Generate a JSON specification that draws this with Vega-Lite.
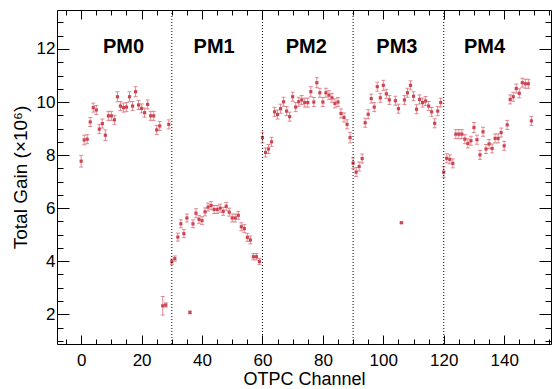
{
  "$schema": "https://vega.github.io/schema/vega-lite/v6.json",
  "width": 494,
  "height": 334,
  "autosize": {"type": "none"},
  "padding": {"left": 57, "top": 10, "right": 2, "bottom": 45},
  "background": "white",
  "config": {
    "view": {"stroke": "black", "strokeWidth": 1},
    "font": "Liberation Sans",
    "axis": {"grid": false, "domain": false, "tickColor": "black", "labelColor": "black", "titleColor": "black", "labelFont": "Liberation Sans", "titleFont": "Liberation Sans", "labelFontSize": 17, "titleFontSize": 19, "titleFontWeight": "normal"}
  },
  "datasets": {
    "gain": [
      {"ch":0,"gain":7.77,"err":0.22},{"ch":1,"gain":8.57,"err":0.18},{"ch":2,"gain":8.6,"err":0.17},{"ch":3,"gain":9.25,"err":0.17},{"ch":4,"gain":9.79,"err":0.17},
      {"ch":5,"gain":9.7,"err":0.17},{"ch":6,"gain":8.98,"err":0.17},{"ch":7,"gain":9.19,"err":0.17},{"ch":8,"gain":8.75,"err":0.2},{"ch":9,"gain":9.48,"err":0.17},
      {"ch":10,"gain":9.48,"err":0.17},{"ch":11,"gain":9.33,"err":0.17},{"ch":12,"gain":10.2,"err":0.19},{"ch":13,"gain":9.85,"err":0.17},{"ch":14,"gain":9.79,"err":0.17},
      {"ch":15,"gain":9.81,"err":0.17},{"ch":16,"gain":10.2,"err":0.19},{"ch":17,"gain":9.85,"err":0.17},{"ch":18,"gain":10.39,"err":0.19},{"ch":19,"gain":9.89,"err":0.17},
      {"ch":20,"gain":9.76,"err":0.17},{"ch":21,"gain":9.6,"err":0.17},{"ch":22,"gain":9.91,"err":0.17},{"ch":23,"gain":9.48,"err":0.17},{"ch":24,"gain":9.48,"err":0.17},
      {"ch":25,"gain":8.95,"err":0.17},{"ch":26,"gain":9.1,"err":0.17},{"ch":27,"gain":2.32,"err":0.35},{"ch":28,"gain":2.35,"err":0.08},{"ch":29,"gain":9.16,"err":0.17},
      {"ch":30,"gain":3.98,"err":0.1},{"ch":31,"gain":4.1,"err":0.1},{"ch":32,"gain":4.91,"err":0.15},{"ch":33,"gain":5.41,"err":0.15},{"ch":34,"gain":5.04,"err":0.15},
      {"ch":35,"gain":5.63,"err":0.15},{"ch":36,"gain":2.07,"err":0.05},{"ch":37,"gain":5.41,"err":0.15},{"ch":38,"gain":5.81,"err":0.17},{"ch":39,"gain":5.58,"err":0.15},
      {"ch":40,"gain":5.53,"err":0.15},{"ch":41,"gain":5.86,"err":0.15},{"ch":42,"gain":6.04,"err":0.15},{"ch":43,"gain":6.1,"err":0.15},{"ch":44,"gain":5.95,"err":0.15},
      {"ch":45,"gain":5.95,"err":0.15},{"ch":46,"gain":6.0,"err":0.15},{"ch":47,"gain":5.88,"err":0.15},{"ch":48,"gain":6.07,"err":0.15},{"ch":49,"gain":5.85,"err":0.15},
      {"ch":50,"gain":5.63,"err":0.15},{"ch":51,"gain":5.63,"err":0.15},{"ch":52,"gain":5.73,"err":0.15},{"ch":53,"gain":5.3,"err":0.15},{"ch":54,"gain":5.23,"err":0.15},
      {"ch":55,"gain":4.9,"err":0.15},{"ch":56,"gain":4.8,"err":0.15},{"ch":57,"gain":4.17,"err":0.12},{"ch":58,"gain":4.17,"err":0.12},{"ch":59,"gain":3.99,"err":0.12},
      {"ch":60,"gain":8.66,"err":0.2},{"ch":61,"gain":8.1,"err":0.17},{"ch":62,"gain":8.23,"err":0.17},{"ch":63,"gain":8.5,"err":0.17},{"ch":64,"gain":9.63,"err":0.17},
      {"ch":65,"gain":9.53,"err":0.17},{"ch":66,"gain":9.75,"err":0.17},{"ch":67,"gain":10.01,"err":0.17},{"ch":68,"gain":9.66,"err":0.17},{"ch":69,"gain":9.45,"err":0.17},
      {"ch":70,"gain":10.2,"err":0.17},{"ch":71,"gain":9.81,"err":0.17},{"ch":72,"gain":10.01,"err":0.17},{"ch":73,"gain":10.08,"err":0.17},{"ch":74,"gain":9.98,"err":0.17},
      {"ch":75,"gain":9.98,"err":0.17},{"ch":76,"gain":10.39,"err":0.19},{"ch":77,"gain":10.0,"err":0.17},{"ch":78,"gain":10.73,"err":0.19},{"ch":79,"gain":10.35,"err":0.17},
      {"ch":80,"gain":10.0,"err":0.17},{"ch":81,"gain":10.35,"err":0.17},{"ch":82,"gain":10.26,"err":0.17},{"ch":83,"gain":10.16,"err":0.17},{"ch":84,"gain":9.95,"err":0.17},
      {"ch":85,"gain":10.0,"err":0.17},{"ch":86,"gain":9.57,"err":0.17},{"ch":87,"gain":9.42,"err":0.17},{"ch":88,"gain":9.16,"err":0.17},{"ch":89,"gain":8.66,"err":0.2},
      {"ch":90,"gain":7.7,"err":0.2},{"ch":91,"gain":7.36,"err":0.17},{"ch":92,"gain":7.57,"err":0.17},{"ch":93,"gain":7.87,"err":0.17},{"ch":94,"gain":9.22,"err":0.17},
      {"ch":95,"gain":9.54,"err":0.17},{"ch":96,"gain":10.13,"err":0.17},{"ch":97,"gain":9.81,"err":0.17},{"ch":98,"gain":10.58,"err":0.17},{"ch":99,"gain":10.16,"err":0.17},
      {"ch":100,"gain":10.63,"err":0.19},{"ch":101,"gain":10.31,"err":0.17},{"ch":102,"gain":10.08,"err":0.17},{"ch":104,"gain":10.05,"err":0.17},
      {"ch":105,"gain":9.75,"err":0.17},{"ch":106,"gain":5.45,"err":0.03},{"ch":107,"gain":10.08,"err":0.17},{"ch":108,"gain":10.35,"err":0.17},{"ch":109,"gain":10.63,"err":0.17},
      {"ch":110,"gain":10.22,"err":0.17},{"ch":111,"gain":9.73,"err":0.17},{"ch":112,"gain":10.1,"err":0.17},{"ch":113,"gain":9.98,"err":0.17},{"ch":114,"gain":10.04,"err":0.17},
      {"ch":115,"gain":9.85,"err":0.17},{"ch":116,"gain":9.63,"err":0.17},{"ch":117,"gain":9.2,"err":0.17},{"ch":118,"gain":9.66,"err":0.17},{"ch":119,"gain":9.98,"err":0.17},
      {"ch":120,"gain":7.36,"err":0.2},{"ch":121,"gain":7.88,"err":0.17},{"ch":122,"gain":7.84,"err":0.17},{"ch":123,"gain":7.69,"err":0.17},{"ch":124,"gain":8.79,"err":0.17},
      {"ch":125,"gain":8.79,"err":0.17},{"ch":126,"gain":8.79,"err":0.17},{"ch":127,"gain":8.6,"err":0.17},{"ch":128,"gain":8.44,"err":0.17},{"ch":129,"gain":8.54,"err":0.17},
      {"ch":130,"gain":9.04,"err":0.19},{"ch":131,"gain":8.58,"err":0.17},{"ch":132,"gain":8.01,"err":0.17},{"ch":133,"gain":8.88,"err":0.17},{"ch":134,"gain":8.23,"err":0.17},
      {"ch":135,"gain":8.42,"err":0.17},{"ch":136,"gain":8.25,"err":0.17},{"ch":137,"gain":8.63,"err":0.17},{"ch":138,"gain":8.63,"err":0.17},{"ch":139,"gain":8.85,"err":0.17},
      {"ch":140,"gain":8.35,"err":0.17},{"ch":141,"gain":9.14,"err":0.17},{"ch":142,"gain":10.1,"err":0.17},{"ch":143,"gain":10.2,"err":0.17},{"ch":144,"gain":10.51,"err":0.17},
      {"ch":145,"gain":10.33,"err":0.17},{"ch":146,"gain":10.73,"err":0.17},{"ch":147,"gain":10.69,"err":0.17},{"ch":148,"gain":10.69,"err":0.17},{"ch":149,"gain":9.29,"err":0.17}
    ],
    "labels": [
      {"ch":14,"y":11.85,"label":"PM0"},{"ch":44,"y":11.85,"label":"PM1"},{"ch":74.5,"y":11.85,"label":"PM2"},{"ch":104.5,"y":11.85,"label":"PM3"},{"ch":133.5,"y":11.85,"label":"PM4"}
    ],
    "dividers": [{"ch":30},{"ch":60},{"ch":90},{"ch":120}]
  },
  "resolve": {"axis": {"x": "independent", "y": "independent"}},
  "layer": [
    {
      "data": {"name": "gain"},
      "mark": {"type": "errorbar", "ticks": {"size": 4}, "color": "#d9707a", "opacity": 0.8},
      "encoding": {
        "x": {"field": "ch", "type": "quantitative", "scale": {"domain": [-8, 155.5], "nice": false, "zero": false},
              "axis": {"orient": "bottom", "values": [0,20,40,60,80,100,120,140], "tickSize": -9, "labelPadding": 17, "title": "OTPC Channel", "titleFontSize": 18, "titlePadding": 2}},
        "y": {"field": "gain", "type": "quantitative", "scale": {"domain": [0.88, 13.47], "nice": false, "zero": false},
              "axis": {"orient": "left", "values": [2,4,6,8,10,12], "tickSize": -12, "labelPadding": 14, "title": "Total Gain (×10⁶)", "titlePadding": 6}},
        "yError": {"field": "err"}
      }
    },
    {
      "data": {"name": "gain"},
      "mark": {"type": "square", "size": 10, "color": "#cc4452", "opacity": 1},
      "encoding": {
        "x": {"field": "ch", "type": "quantitative",
              "axis": {"orient": "bottom", "values": [-5,0,5,10,15,20,25,30,35,40,45,50,55,60,65,70,75,80,85,90,95,100,105,110,115,120,125,130,135,140,145,150,155], "tickSize": -5, "labels": false, "title": null}},
        "y": {"field": "gain", "type": "quantitative",
              "axis": {"orient": "left", "values": [1,1.5,2,2.5,3,3.5,4,4.5,5,5.5,6,6.5,7,7.5,8,8.5,9,9.5,10,10.5,11,11.5,12,12.5,13], "tickSize": -6, "labels": false, "title": null}}
      }
    },
    {
      "data": {"name": "gain"},
      "mark": {"type": "point", "opacity": 0},
      "encoding": {
        "x": {"field": "ch", "type": "quantitative",
              "axis": {"orient": "top", "values": [-5,0,5,10,15,20,25,30,35,40,45,50,55,60,65,70,75,80,85,90,95,100,105,110,115,120,125,130,135,140,145,150,155], "tickSize": -5, "labels": false, "title": null}},
        "y": {"field": "gain", "type": "quantitative",
              "axis": {"orient": "right", "values": [1,1.5,2,2.5,3,3.5,4,4.5,5,5.5,6,6.5,7,7.5,8,8.5,9,9.5,10,10.5,11,11.5,12,12.5,13], "tickSize": -6, "labels": false, "title": null}}
      }
    },
    {
      "data": {"name": "labels"},
      "mark": {"type": "text", "font": "Liberation Sans", "fontWeight": "bold", "fontSize": 20, "align": "center", "baseline": "alphabetic", "color": "black"},
      "encoding": {
        "x": {"field": "ch", "type": "quantitative",
              "axis": {"orient": "top", "values": [0,20,40,60,80,100,120,140], "tickSize": -9, "labels": false, "title": null}},
        "y": {"field": "y", "type": "quantitative",
              "axis": {"orient": "right", "values": [2,4,6,8,10,12], "tickSize": -12, "labels": false, "title": null}},
        "text": {"field": "label"}
      }
    },
    {
      "data": {"name": "dividers"},
      "mark": {"type": "rule", "color": "black", "strokeWidth": 1, "strokeDash": [1, 2]},
      "encoding": {
        "x": {"field": "ch", "type": "quantitative", "axis": null}
      }
    }
  ]
}
